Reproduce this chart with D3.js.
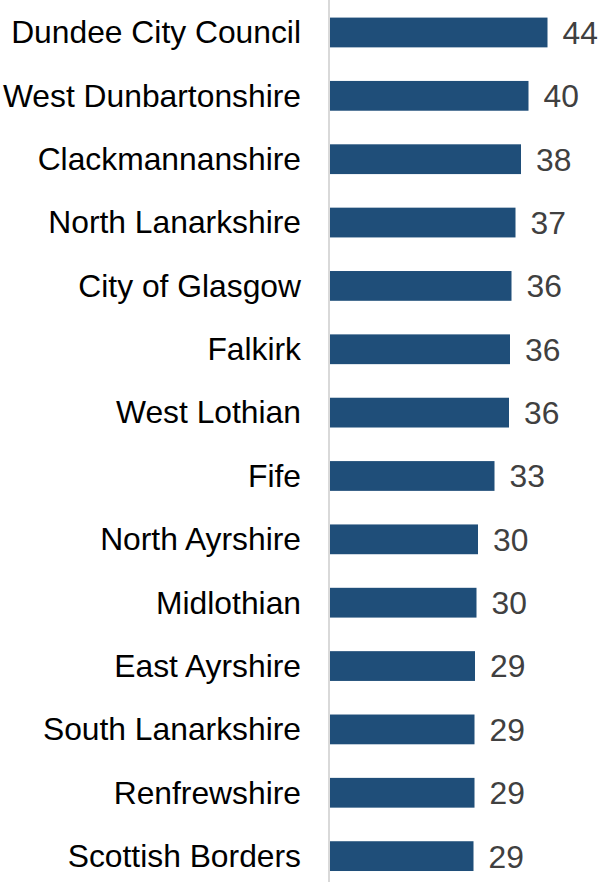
<!DOCTYPE html>
<html>
<head>
<meta charset="utf-8">
<script src="https://cdn.jsdelivr.net/npm/d3@7"></script>
<style>
  html, body { margin: 0; padding: 0; background: #fff; }
  svg { display: block; }
</style>
</head>
<body>
<div id="chart"></div>
<script>
const categories = [
  "Dundee City Council", "West Dunbartonshire", "Clackmannanshire", "North Lanarkshire",
  "City of Glasgow", "Falkirk", "West Lothian", "Fife", "North Ayrshire", "Midlothian",
  "East Ayrshire", "South Lanarkshire", "Renfrewshire", "Scottish Borders"
];
const values = [43.5, 39.7, 38.2, 37.1, 36.3, 36.0, 35.8, 32.9, 29.6, 29.3, 29.0, 28.9, 28.9, 28.7];
const valueLabels = ["44", "40", "38", "37", "36", "36", "36", "33", "30", "30", "29", "29", "29", "29"];

const W = 600, H = 882;
const svg = d3.select("#chart").append("svg").attr("width", W).attr("height", H);

const x = d3.scaleLinear().domain([0, 50]).range([330, 580]);
const y = d3.scaleBand().domain(categories).range([0.8, 887.8]).paddingInner(0.53).paddingOuter(0.265);

const data = categories.map((c, i) => ({ c, v: values[i], t: valueLabels[i] }));

svg.append("g").selectAll("rect").data(data).join("rect")
  .attr("x", x(0))
  .attr("y", d => y(d.c))
  .attr("width", d => x(d.v) - x(0))
  .attr("height", y.bandwidth())
  .attr("fill", "#1f4e79");

// category axis line
svg.append("line")
  .attr("x1", 329).attr("x2", 329)
  .attr("y1", 0).attr("y2", H)
  .attr("stroke", "#d9d9d9").attr("stroke-width", 2);

svg.append("g").selectAll("text").data(data).join("text")
  .attr("x", 301)
  .attr("y", d => y(d.c) + y.bandwidth() / 2)
  .attr("dy", "0.34em")
  .attr("text-anchor", "end")
  .attr("font-family", "Liberation Sans, Arial, sans-serif")
  .attr("font-size", 31.8)
  .attr("fill", "#000")
  .text(d => d.c);

svg.append("g").selectAll("text").data(data).join("text")
  .attr("x", d => x(d.v) + 15)
  .attr("y", d => y(d.c) + y.bandwidth() / 2)
  .attr("dy", "0.36em")
  .attr("font-family", "Liberation Sans, Arial, sans-serif")
  .attr("font-size", 31.8)
  .attr("fill", "#404040")
  .text(d => d.t);
</script>
</body>
</html>
